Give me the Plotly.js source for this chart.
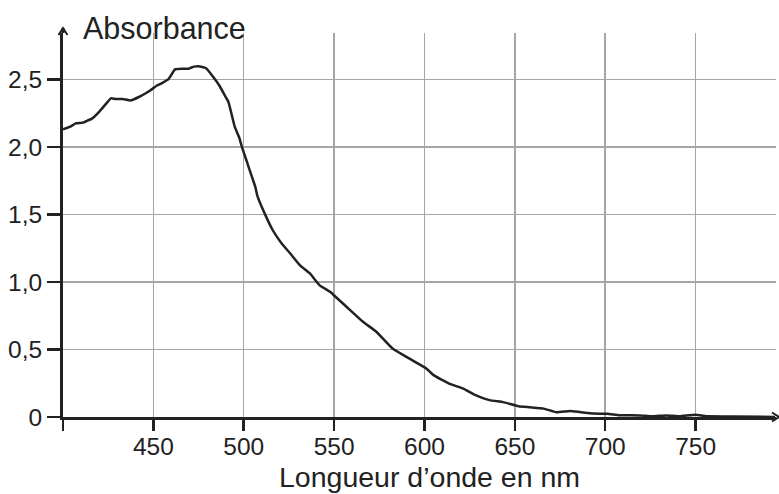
<!DOCTYPE html>
<html>
<head>
<meta charset="utf-8">
<script src="https://cdn.plot.ly/plotly-3.0.1.min.js"></script>
<style>
  html, body { margin: 0; padding: 0; background: #fff; }
  #chart { width: 779px; height: 494px; }
</style>
</head>
<body>
<div id="chart"></div>
<script>
// Wavelength (nm)
const wavelength = [400, 404, 407, 411, 413.5, 416, 420, 423.5, 426.5, 429, 433, 437.5, 442, 446, 449.5,
  452, 455, 458.5, 462, 466, 469.5, 472.5, 475, 479, 482.5, 486.5, 490, 491.5, 493.5, 495,
  497.5, 499, 501, 503, 505, 506.5, 507.5, 511.5, 516, 521, 525.5, 531, 536.5, 542, 548,
  550, 557, 566, 573.5, 582.5, 592, 601, 605, 614, 621.5, 627, 636, 643.5, 652, 658,
  666, 673, 680.5, 686, 693.5, 701, 708, 719, 726, 734, 741, 750, 756, 771, 794];
// Absorbance values
const absorbance = [2.13, 2.15, 2.175, 2.18, 2.195, 2.21, 2.26, 2.315, 2.36, 2.355, 2.355, 2.345, 2.37, 2.40, 2.43,
  2.455, 2.475, 2.505, 2.575, 2.58, 2.58, 2.595, 2.598, 2.585, 2.53, 2.455, 2.37, 2.335, 2.23, 2.15,
  2.07, 2.0, 1.92, 1.84, 1.76, 1.70, 1.64, 1.51, 1.385, 1.285, 1.215, 1.125, 1.065, 0.975, 0.925,
  0.90, 0.815, 0.705, 0.63, 0.505, 0.43, 0.36, 0.31, 0.245, 0.21, 0.17, 0.125, 0.11, 0.08, 0.072,
  0.062, 0.035, 0.045, 0.037, 0.025, 0.024, 0.013, 0.012, 0.005, 0.012, 0.005, 0.017, 0.005, 0.004, 0.0];

const xTickVals = [400, 450, 500, 550, 600, 650, 700, 750];
const xTickText = ['', '450', '500', '550', '600', '650', '700', '750'];
const yTickVals = [0, 0.5, 1.0, 1.5, 2.0, 2.5];
const yTickText = ['0', '0,5', '1,0', '1,5', '2,0', '2,5'];

const yTitle = 'Absorbance';
const xTitle = 'Longueur d’onde en nm';

const axisColor = '#222222';
const gridColor = '#a6a6a6';
const fontFamily = '"Liberation Sans", Arial, sans-serif';

const trace = {
  x: wavelength,
  y: absorbance,
  type: 'scatter',
  mode: 'lines',
  line: { color: '#222222', width: 2.5, shape: 'spline', smoothing: 0.4 },
  hoverinfo: 'skip'
};

const W = 779, H = 494;
const mL = 63, mR = 3, mT = 33, mB = 77;
const pw = W - mL - mR, ph = H - mT - mB;
function px(dx) { return dx / pw; }
function py(dy) { return dy / ph; }

const layout = {
  width: W,
  height: H,
  margin: { l: mL, r: mR, t: mT, b: mB, pad: 0 },
  paper_bgcolor: '#ffffff',
  plot_bgcolor: '#ffffff',
  showlegend: false,
  font: { family: fontFamily, color: axisColor, size: 24 },
  xaxis: {
    range: [400, 794.5],
    tickmode: 'array',
    tickvals: xTickVals,
    ticktext: xTickText,
    ticks: 'outside',
    ticklen: 11,
    tickwidth: 2.5,
    tickcolor: axisColor,
    ticklabelstandoff: -5,
    showline: true,
    linewidth: 3,
    linecolor: axisColor,
    showgrid: true,
    gridcolor: gridColor,
    gridwidth: 1.5,
    zeroline: false,
    tickfont: { family: fontFamily, size: 24.5, color: axisColor },
    fixedrange: true
  },
  yaxis: {
    range: [0, 2.844],
    tickmode: 'array',
    tickvals: yTickVals,
    ticktext: yTickText,
    ticks: 'outside',
    ticklen: 13,
    tickwidth: 2.5,
    tickcolor: axisColor,
    showline: true,
    linewidth: 3,
    linecolor: axisColor,
    showgrid: true,
    gridcolor: gridColor,
    gridwidth: 1.5,
    zeroline: false,
    tickfont: { family: fontFamily, size: 24.5, color: axisColor },
    fixedrange: true
  },
  shapes: [
    // y-axis extension + arrow head
    { type: 'path', xref: 'paper', yref: 'paper',
      path: `M 0 1 L 0 ${1 + py(5)}`,
      line: { color: axisColor, width: 3 } },
    { type: 'path', xref: 'paper', yref: 'paper',
      path: `M ${-px(4.5)} ${1 + py(-2)} L 0 ${1 + py(5)} L ${px(4.5)} ${1 + py(-2)}`,
      line: { color: axisColor, width: 2 } },
    // x-axis arrow head at right edge
    { type: 'path', xref: 'paper', yref: 'paper',
      path: `M ${1 + px(-4)} ${py(4.5)} L ${1 + px(3)} 0 L ${1 + px(-4)} ${-py(4.5)}`,
      line: { color: axisColor, width: 2 } }
  ],
  annotations: [
    { text: yTitle, xref: 'paper', yref: 'paper', x: 0, y: 1 + py(33 - 28),
      xanchor: 'left', yanchor: 'middle', xshift: 18, showarrow: false,
      font: { family: fontFamily, size: 30.5, color: axisColor } },
    { text: xTitle, xref: 'paper', yref: 'paper', x: px(430 - mL), y: -py(476.5 - (H - mB)),
      xanchor: 'center', yanchor: 'middle', showarrow: false,
      font: { family: fontFamily, size: 28.5, color: axisColor } }
  ]
};

Plotly.newPlot('chart', [trace], layout, { displayModeBar: false, staticPlot: true });
</script>
</body>
</html>
